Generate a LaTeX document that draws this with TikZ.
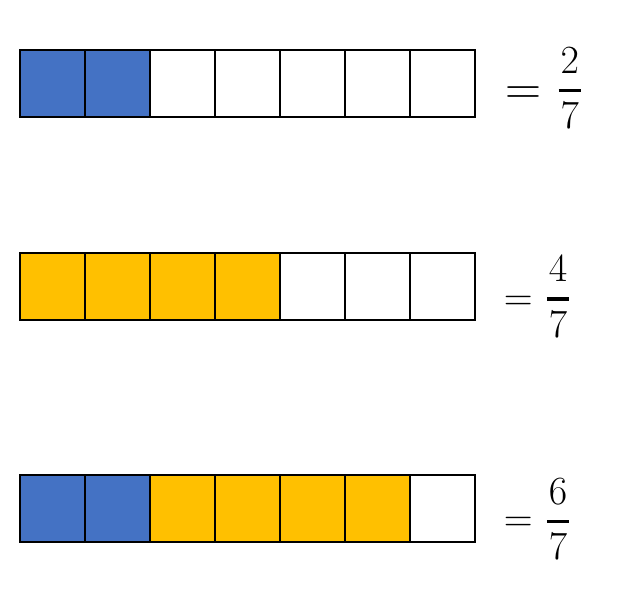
\documentclass[tikz,border=0pt]{standalone}
\usepackage{fix-cm}
\usepackage{amsmath}
\usetikzlibrary{positioning}
\definecolor{clrblue}{HTML}{4472C4}
\definecolor{clryellow}{HTML}{FFC000}
\definecolor{clrborder}{HTML}{000000}
\newcommand{\barfrac}[2]{\genfrac{}{}{3.5pt}{0}{\kern2pt#1\kern2pt}{#2}}

\begin{document}
\begin{tikzpicture}[
    cell/.style={draw=clrborder, line width=2pt, minimum width=65pt,
                 minimum height=67pt, inner sep=0, outer sep=0},
    eqsign/.style={inner sep=0, anchor=base, font=\fontsize{40}{44}\selectfont},
    bigeqsign/.style={inner sep=0, anchor=base, font=\fontsize{50}{54}\selectfont},
    fracnum/.style={inner sep=0, anchor=base, font=\fontsize{40}{44}\selectfont},
]
\useasboundingbox (0,0) rectangle (625pt,-602pt);
% row 1: 2/7
\node[cell, fill=clrblue] (a_1) at (52.5pt,-83.5pt) {};
\node[cell, fill=clrblue, right=0pt of a_1] (a_2) {};
\node[cell, right=0pt of a_2] (a_3) {};
\node[cell, right=0pt of a_3] (a_4) {};
\node[cell, right=0pt of a_4] (a_5) {};
\node[cell, right=0pt of a_5] (a_6) {};
\node[cell, right=0pt of a_6] (a_7) {};
\node[bigeqsign] (eq_a) at (523pt,-104.5pt) {$=$};
\node[fracnum] (fr_a) at (569.7pt,-100.7pt) {$\barfrac{2}{7}$};
% row 2: 4/7
\node[cell, fill=clryellow] (b_1) at (52.5pt,-286.5pt) {};
\node[cell, fill=clryellow, right=0pt of b_1] (b_2) {};
\node[cell, fill=clryellow, right=0pt of b_2] (b_3) {};
\node[cell, fill=clryellow, right=0pt of b_3] (b_4) {};
\node[cell, right=0pt of b_4] (b_5) {};
\node[cell, right=0pt of b_5] (b_6) {};
\node[cell, right=0pt of b_6] (b_7) {};
\node[eqsign] (eq_b) at (518.3pt,-310pt) {$=$};
\node[fracnum] (fr_b) at (558pt,-309pt) {$\barfrac{4}{7}$};
% row 3: 6/7
\node[cell, fill=clrblue] (c_1) at (52.5pt,-508.5pt) {};
\node[cell, fill=clrblue, right=0pt of c_1] (c_2) {};
\node[cell, fill=clryellow, right=0pt of c_2] (c_3) {};
\node[cell, fill=clryellow, right=0pt of c_3] (c_4) {};
\node[cell, fill=clryellow, right=0pt of c_4] (c_5) {};
\node[cell, fill=clryellow, right=0pt of c_5] (c_6) {};
\node[cell, right=0pt of c_6] (c_7) {};
\node[eqsign] (eq_c) at (518.3pt,-531.5pt) {$=$};
\node[fracnum] (fr_c) at (558pt,-531.7pt) {$\barfrac{6}{7}$};
\end{tikzpicture}
\end{document}
